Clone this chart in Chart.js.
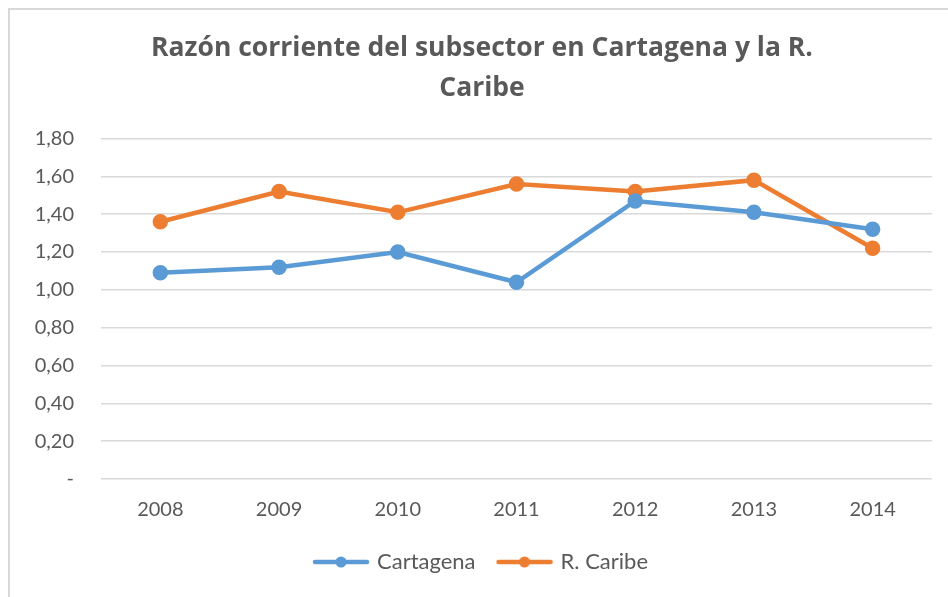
<!DOCTYPE html>
<html>
<head>
<meta charset="utf-8">
<script src="https://cdn.jsdelivr.net/npm/chart.js@4.4.1/dist/chart.umd.min.js"></script>
<style>
  body { margin: 0; background: #fff; }
  canvas { display: block; }
</style>
</head>
<body>
<canvas id="chart" width="948" height="597"></canvas>
<script>
const years = ['2008', '2009', '2010', '2011', '2012', '2013', '2014'];
const cartagena = [1.09, 1.12, 1.20, 1.04, 1.47, 1.41, 1.32];
const caribe = [1.36, 1.52, 1.41, 1.56, 1.52, 1.58, 1.22];
const yTickLabels = ['-', '0,20', '0,40', '0,60', '0,80', '1,00', '1,20', '1,40', '1,60', '1,80'];

const blue = '#5b9bd5';
const orange = '#ed7d31';
const textColor = '#595959';

// legend icon: thick line with a dot in the middle
function legendIcon(color) {
    const c = document.createElement('canvas');
    c.width = 60;
    c.height = 14;
    const g = c.getContext('2d');
    g.strokeStyle = color;
    g.lineWidth = 4.5;
    g.lineCap = 'round';
    g.beginPath();
    g.moveTo(4, 7);
    g.lineTo(56, 7);
    g.stroke();
    g.fillStyle = color;
    g.beginPath();
    g.arc(30, 7, 5.5, 0, Math.PI * 2);
    g.fill();
    return c;
}
const icons = [legendIcon(blue), legendIcon(orange)];

const frame = {
    id: 'frame',
    beforeDraw(chart) {
        const c = chart.ctx;
        c.save();
        c.strokeStyle = '#d9d9d9';
        c.lineWidth = 2;
        c.beginPath();
        c.moveTo(9, 597);
        c.lineTo(9, 9);
        c.lineTo(948, 9);
        c.stroke();
        c.restore();
    }
};

const ctx = document.getElementById('chart');
const myChart = new Chart(ctx, {
    type: 'line',
    data: {
        labels: years,
        datasets: [{
            label: 'Cartagena',
            data: cartagena,
            borderColor: blue,
            backgroundColor: blue,
            borderWidth: 4.5,
            pointRadius: 5.5,
            pointHoverRadius: 5.5,
            tension: 0,
        }, {
            label: 'R. Caribe',
            data: caribe,
            borderColor: orange,
            backgroundColor: orange,
            borderWidth: 4.5,
            pointRadius: 5.5,
            pointHoverRadius: 5.5,
            tension: 0,
        }]
    },
    options: {
        responsive: false,
        animation: false,
        devicePixelRatio: 1,
        layout: {
            padding: { left: 16, right: 0, top: 0, bottom: 14 }
        },
        plugins: {
            title: {
                display: true,
                text: ['Razón corriente del subsector en Cartagena y la R.', 'Caribe'],
                color: textColor,
                font: { family: 'Open Sans', size: 26.5, weight: 'bold', lineHeight: 1.52 },
                padding: { top: 28, bottom: 30 },
            },
            legend: {
                position: 'bottom',
                labels: {
                    usePointStyle: true,
                    pointStyleWidth: 50,
                    padding: 24,
                    color: textColor,
                    font: { family: 'Lato', size: 22 },
                    generateLabels: (chart) =>
                        Chart.defaults.plugins.legend.labels.generateLabels(chart)
                            .map((l, i) => ({ ...l, pointStyle: icons[i] })),
                },
            },
            tooltip: { enabled: false },
        },
        scales: {
            x: {
                offset: true,
                afterFit: (s) => { s.height = 48; },
                grid: { display: false },
                border: { display: false },
                ticks: {
                    color: textColor,
                    font: { family: 'Lato', size: 20 },
                    padding: 11,
                },
            },
            y: {
                min: 0,
                max: 1.8,
                afterFit: (s) => { s.width = 85; },
                border: { display: false },
                grid: {
                    color: '#d9d9d9',
                    lineWidth: 1.5,
                    drawTicks: false,
                },
                ticks: {
                    stepSize: 0.2,
                    color: textColor,
                    font: { family: 'Lato', size: 20 },
                    padding: 27,
                    callback: (v, i) => yTickLabels[i],
                },
            },
            // empty right axis, only keeps 16px free on the right
            y2: {
                position: 'right',
                afterFit: (s) => { s.width = 16; },
                grid: { display: false },
                border: { display: false },
                ticks: { display: false },
            },
        },
    },
    plugins: [frame],
});
</script>
</body>
</html>
